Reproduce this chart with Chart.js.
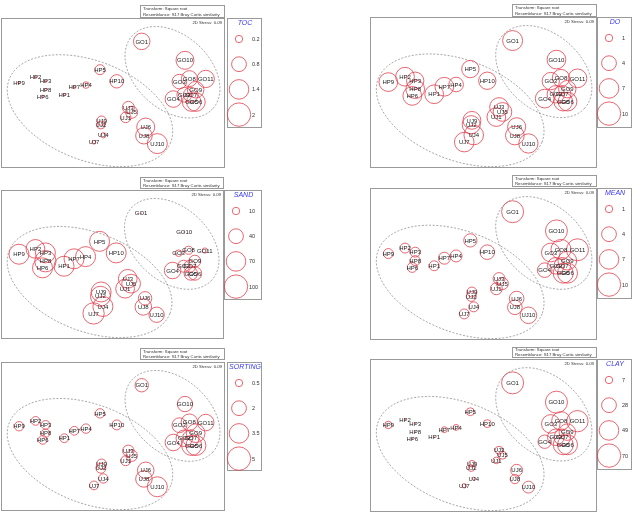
<!DOCTYPE html>
<html><head><meta charset="utf-8">
<script src="https://cdn.jsdelivr.net/npm/chart.js@4"></script>
<style>
html,body{margin:0;padding:0;background:#fff;width:637px;height:517px;overflow:hidden}
canvas{position:absolute;left:0;top:0}
</style></head><body>
<canvas id="c0" width="637" height="517"></canvas>
<canvas id="c1" width="637" height="517"></canvas>
<canvas id="c2" width="637" height="517"></canvas>
<canvas id="c3" width="637" height="517"></canvas>
<canvas id="c4" width="637" height="517"></canvas>
<canvas id="c5" width="637" height="517"></canvas>
<script>
// ---- data ----
const samples = ['GO1','GO2','GO3','GO4','GO5','GO6','GO7','GO8','GO9','GO10','GO11',
  'HP1','HP2','HP3','HP4','HP5','HP6','HP7','HP8','HP9','HP10',
  'UJ1','UJ2','UJ3','UJ4','UJ5','UJ6','UJ7','UJ8','UJ9','UJ10'];
const nmdsX = [63.1,82.2,80.0,77.3,85.5,87.4,85.1,84.5,87.3,82.5,91.8,
  28.4,15.5,20.0,38.1,44.4,18.7,32.9,20.0,8.1,51.9,
  55.9,44.8,57.1,45.9,58.6,64.9,41.7,64.1,45.1,70.1];
const nmdsY = [84.3,48.5,57.3,45.6,43.6,43.6,48.5,59.3,51.9,71.6,59.1,
  48.5,60.2,57.5,55.0,65.3,47.4,53.5,51.9,56.6,57.5,
  33.3,28.2,40.0,21.3,36.7,26.8,16.6,21.0,31.1,15.7];

const tocValues = [1.0,0.8,0.78,1.0,1.27,1.27,0.8,0.93,1.0,1.18,1.1,
  0.02,0.02,0.02,0.16,0.37,0.02,0.03,0.02,0.02,0.65,
  0.41,0.23,0.53,0.1,0.53,1.18,0.05,1.0,0.32,1.46];
const doValues = [7.3,5.5,5.5,6.4,6.4,6.4,5.5,5.5,5.5,6.4,6.4,
  6.4,6.4,5.5,3.9,5.5,6.4,6.4,6.4,6.4,5.5,
  6.4,6.0,6.4,7.0,6.4,6.0,7.0,6.4,5.8,6.8];
const sandValues = [0.1,26,8,50,33,33,26,11.7,26,0.1,5,
  73,64,73,73,73,73,73,83,73,73,
  64,73,64,73,64,33,83,50,73,43];
const meanValues = [8.8,5,6.4,3.9,7.3,7.3,5,7.3,6.4,8.8,8.8,
  1.8,1.8,1.8,2.6,3.2,1.8,2.6,1.8,1.8,3.9,
  2.6,1.8,2.6,1.8,2.6,3.9,1.8,3.9,1.8,5];
const sortingValues = [1.64,2.5,2.0,2.5,3.65,3.65,2.5,2.5,3.2,2.15,2.5,
  0.7,0.7,0.7,0.8,0.8,0.7,0.7,0.6,0.8,0.9,
  0.9,0.9,1.2,0.8,1.2,2.5,0.7,2.5,0.9,3.65];
const clayValues = [62,35,44,23,51,51,35,44,35,62,58,
  0.1,0.1,0.1,4.5,8,0.1,4.5,0.1,7,8,
  5.6,5.6,8,1,8,18,2.5,11,5.6,18];

const tocTicks = [0.2,0.8,1.4,2];
const doTicks = [1,4,7,10];
const sandTicks = [10,40,70,100];
const meanTicks = [1,4,7,10];
const sortingTicks = [0.5,2,3.5,5];
const clayTicks = [7,28,49,70];

const variableNames = ['TOC','DO','SAND','MEAN','SORTING','CLAY'];
const variableValues = [tocValues,doValues,sandValues,meanValues,sortingValues,clayValues];
const variableTicks = [tocTicks,doTicks,sandTicks,meanTicks,sortingTicks,clayTicks];

// cluster ellipses (centre and conjugate semi-axes, in NMDS units)
const clusterHPUJ = {cx:39.9, cy:37.8, ux:36.2, uy:-21.2, vx:-8.13, vy:-31.0};
const clusterGO = {cx:76.9, cy:63.6, ux:18.1, uy:-24.4, vx:-11.2, vy:-18.6};
const clusters = [clusterHPUJ, clusterGO];

const headerLines = ['Transform: Square root','Resemblance: S17 Bray Curtis similarity'];
const stressText = '2D Stress: 0.09';

// ---- layout / style ----
const W = 637, H = 517;
const panels = [
  {box:[1,18,223,149], header:[140,5,84,12], legend:[227,18,34,109]},
  {box:[370,17,226,150], header:[512,4,84,12], legend:[597,17,34,110]},
  {box:[1,190,222,148], header:[140,177,83,11], legend:[224,190,37,109]},
  {box:[370,188,226,151], header:[512,175,84,11], legend:[597,188,34,110]},
  {box:[1,362,223,148], header:[140,348,84,11], legend:[227,362,34,108]},
  {box:[370,359,226,152], header:[512,347,84,10], legend:[597,359,34,110]}
];
const FONT = '"Liberation Sans", Arial, sans-serif';
const CIRCLE = '#e2404e';
const FRAME = '#9a9a9a';
const R_MAX = 11.7;
function rad(v, max){ return R_MAX*Math.sqrt(Math.max(v,0)/max); }

function decor(p, i){
  const name = variableNames[i], ticks = variableTicks[i], max = ticks[ticks.length-1];
  return {
    id:'decor'+i,
    beforeDatasetsDraw(chart){
      const ctx = chart.ctx, xs = chart.scales.x, ys = chart.scales.y, a = chart.chartArea;
      ctx.save();
      ctx.beginPath(); ctx.rect(a.left, a.top, a.right-a.left, a.bottom-a.top); ctx.clip();
      ctx.strokeStyle = '#808080'; ctx.lineWidth = 0.7; ctx.setLineDash([2,1.6]);
      clusters.forEach(e=>{
        ctx.beginPath();
        for(let k=0;k<=180;k++){
          const t = k/180*2*Math.PI;
          const dx = e.cx + e.ux*Math.cos(t) + e.vx*Math.sin(t);
          const dy = e.cy + e.uy*Math.cos(t) + e.vy*Math.sin(t);
          const px = xs.getPixelForValue(dx), py = ys.getPixelForValue(dy);
          if(k) ctx.lineTo(px,py); else ctx.moveTo(px,py);
        }
        ctx.stroke();
      });
      ctx.restore();
    },
    afterDatasetsDraw(chart){
      const ctx = chart.ctx;
      const meta = chart.getDatasetMeta(0);
      ctx.save();
      // point labels
      ctx.fillStyle = '#222'; ctx.font = '6px '+FONT;
      ctx.textAlign = 'center'; ctx.textBaseline = 'middle';
      meta.data.forEach((el,k)=>{ ctx.fillText(samples[k], el.x, el.y+0.5); });
      // frame
      ctx.strokeStyle = FRAME; ctx.lineWidth = 1;
      const b = p.box;
      ctx.strokeRect(b[0]+0.5, b[1]+0.5, b[2], b[3]);
      // stress
      ctx.font = '4.3px '+FONT; ctx.fillStyle = '#333'; ctx.textAlign = 'right';
      ctx.fillText(stressText, b[0]+b[2]-2, b[1]+5);
      // header
      const h = p.header;
      ctx.strokeRect(h[0]+0.5, h[1]+0.5, h[2], h[3]);
      ctx.textAlign = 'left';
      ctx.fillText(headerLines[0], h[0]+3, h[1]+h[3]*0.28+0.5);
      ctx.fillText(headerLines[1], h[0]+3, h[1]+h[3]*0.75+0.5);
      // legend
      const l = p.legend;
      ctx.strokeRect(l[0]+0.5, l[1]+0.5, l[2], l[3]);
      ctx.font = 'italic 7px '+FONT; ctx.fillStyle = '#3a3af0'; ctx.textAlign = 'center';
      ctx.fillText(name, l[0]+l[2]/2+1, l[1]+5);
      ticks.forEach((t,j)=>{
        const cy = l[1]+21+25.2*j, cx = l[0]+12;
        ctx.beginPath(); ctx.arc(cx, cy, rad(t,max), 0, 2*Math.PI);
        ctx.strokeStyle = CIRCLE; ctx.lineWidth = 0.8; ctx.stroke();
        ctx.fillStyle = '#333'; ctx.font = '5.5px '+FONT; ctx.textAlign = 'left';
        ctx.fillText(String(t), l[0]+25, cy+0.5);
      });
      ctx.restore();
    }
  };
}

panels.forEach((p,i)=>{
  const vals = variableValues[i], ticks = variableTicks[i], max = ticks[ticks.length-1];
  const data = samples.map((s,k)=>({x:nmdsX[k], y:nmdsY[k], r:rad(vals[k],max)}));
  new Chart(document.getElementById('c'+i), {
    type:'bubble',
    data:{datasets:[{label:variableNames[i], data, backgroundColor:'rgba(0,0,0,0)',
      borderColor:CIRCLE, borderWidth:0.8, hoverBorderWidth:0.8, clip:false}]},
    options:{
      responsive:false, animation:false, events:[],
      layout:{autoPadding:false, padding:{left:p.box[0], top:p.box[1], right:W-p.box[0]-p.box[2], bottom:H-p.box[1]-p.box[3]}},
      plugins:{legend:{display:false}, tooltip:{enabled:false}},
      scales:{
        x:{type:'linear', min:0, max:100, display:false},
        y:{type:'linear', min:0, max:100, display:false}
      }
    },
    plugins:[decor(p,i)]
  });
});
</script>
</body></html>
